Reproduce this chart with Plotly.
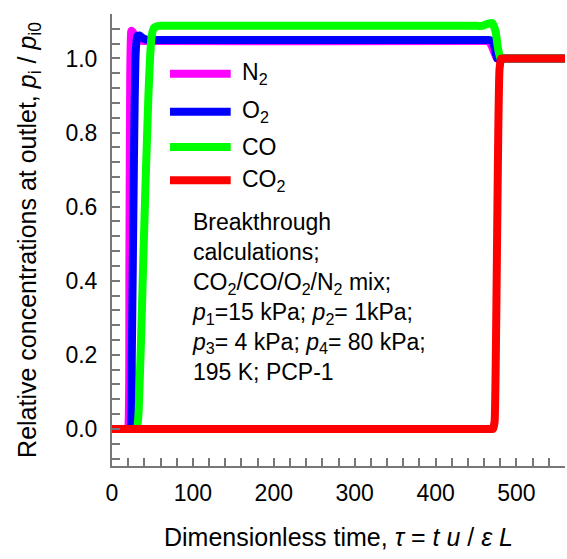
import plotly.graph_objects as go

# Breakthrough curves at the column outlet (relative concentration vs dimensionless time)
tau_n2 = [0, 19, 20, 21.5, 22.5, 24, 26, 29, 34, 40, 461, 465, 468, 472, 476, 479, 560]
c_n2 = [0, 0, 0, 0.45, 0.95, 1.075, 1.07, 1.055, 1.048, 1.047, 1.047, 1.047, 1.04, 1.02, 1.0, 1.0, 1.0]

tau_o2 = [0, 21, 23, 24.5, 26, 27.5, 29, 31, 34, 38, 44, 50, 461, 465, 470, 473, 476, 479, 560]
c_o2 = [0, 0, 0, 0.2, 0.5, 0.8, 1.0, 1.06, 1.062, 1.055, 1.05, 1.05, 1.05, 1.05, 1.048, 1.03, 1.0, 1.0, 1.0]

tau_co = [0, 29, 31, 33, 36, 39, 42, 45, 47, 49, 52, 58, 65, 451, 458, 465, 470, 474, 477, 480, 483, 560]
c_co = [0, 0, 0, 0.05, 0.25, 0.48, 0.7, 0.9, 1.0, 1.06, 1.083, 1.088, 1.088, 1.088, 1.088, 1.094, 1.096, 1.075, 1.03, 1.0, 1.0, 1.0]

tau_co2 = [0, 463, 469, 471, 473, 474.5, 476, 477.5, 479, 481, 484, 560]
c_co2 = [0, 0, 0, 0, 0.02, 0.2, 0.5, 0.8, 0.97, 1.0, 1.0, 1.0]

species = ["N<sub>2</sub>", "O<sub>2</sub>", "CO", "CO<sub>2</sub>"]
colors = ["#ff00ff", "#0000ff", "#00ff00", "#ff0000"]
series = [(tau_n2, c_n2), (tau_o2, c_o2), (tau_co, c_co), (tau_co2, c_co2)]

note_lines = [
    "Breakthrough",
    "calculations;",
    "CO<sub>2</sub>/CO/O<sub>2</sub>/N<sub>2</sub> mix;",
    "<i>p</i><sub>1</sub>=15 kPa; <i>p</i><sub>2</sub>= 1kPa;",
    "<i>p</i><sub>3</sub>= 4 kPa; <i>p</i><sub>4</sub>= 80 kPa;",
    "195 K; PCP-1",
]

FONT = "Liberation Sans, Arial, sans-serif"
AXIS_GREY = "#777777"
FS = 23
FS_TITLE = 25

fig = go.Figure()
for name, color, (t, c) in zip(species, colors, series):
    fig.add_trace(go.Scatter(
        x=t, y=c, mode="lines", name=name, showlegend=False,
        line=dict(color=color, width=8, shape="spline", smoothing=0.4),
    ))

# Hand-placed legend keys inside the plot area
leg_x0, leg_x1, leg_tx = 0.128, 0.262, 0.283
leg_y = [0.868, 0.784, 0.706, 0.632]
shapes = []
annotations = []
for name, color, y in zip(species, colors, leg_y):
    shapes.append(dict(type="line", xref="paper", yref="paper",
                       x0=leg_x0, x1=leg_x1, y0=y, y1=y,
                       line=dict(color=color, width=8)))
    annotations.append(dict(xref="paper", yref="paper", x=leg_tx, y=y,
                            text=name, showarrow=False, xanchor="left",
                            yanchor="middle", font=dict(size=FS, color="black")))

annotations.append(dict(xref="paper", yref="paper", x=0.172, y=0.574,
                        text="<br>".join(note_lines), showarrow=False,
                        xanchor="left", yanchor="top", align="left",
                        font=dict(size=FS, color="black")))

axis_common = dict(
    showline=True, linecolor=AXIS_GREY, linewidth=2,
    ticks="inside", ticklen=8, tickwidth=1.5, tickcolor=AXIS_GREY,
    showgrid=False, zeroline=False,
    tickfont=dict(size=FS, color="black"),
)

fig.update_layout(
    width=567, height=559,
    margin=dict(l=112, r=2, t=14, b=93),
    paper_bgcolor="white", plot_bgcolor="white",
    font=dict(family=FONT, size=FS, color="black"),
    shapes=shapes, annotations=annotations,
    xaxis=dict(
        range=[0, 560], tick0=0, dtick=100,
        minor=dict(dtick=20, ticks="inside", ticklen=8, tickwidth=1.5, tickcolor=AXIS_GREY),
        ticklabelstandoff=5,
        title=dict(text="Dimensionless time, <i>τ</i> = <i>t u</i> / <i>ε L</i>",
                   font=dict(size=FS_TITLE), standoff=24),
        **axis_common,
    ),
    yaxis=dict(
        range=[-0.1, 1.12], tick0=0, dtick=0.2, tickformat=".1f",
        minor=dict(dtick=0.04, ticks="inside", ticklen=8, tickwidth=1.5, tickcolor=AXIS_GREY),
        ticklabelstandoff=8,
        title=dict(text="Relative concentrations at outlet, <i>p</i><sub>i</sub> / <i>p</i><sub>i0</sub>",
                   font=dict(size=FS_TITLE), standoff=22),
        **axis_common,
    ),
)

fig.write_html("out.html")
